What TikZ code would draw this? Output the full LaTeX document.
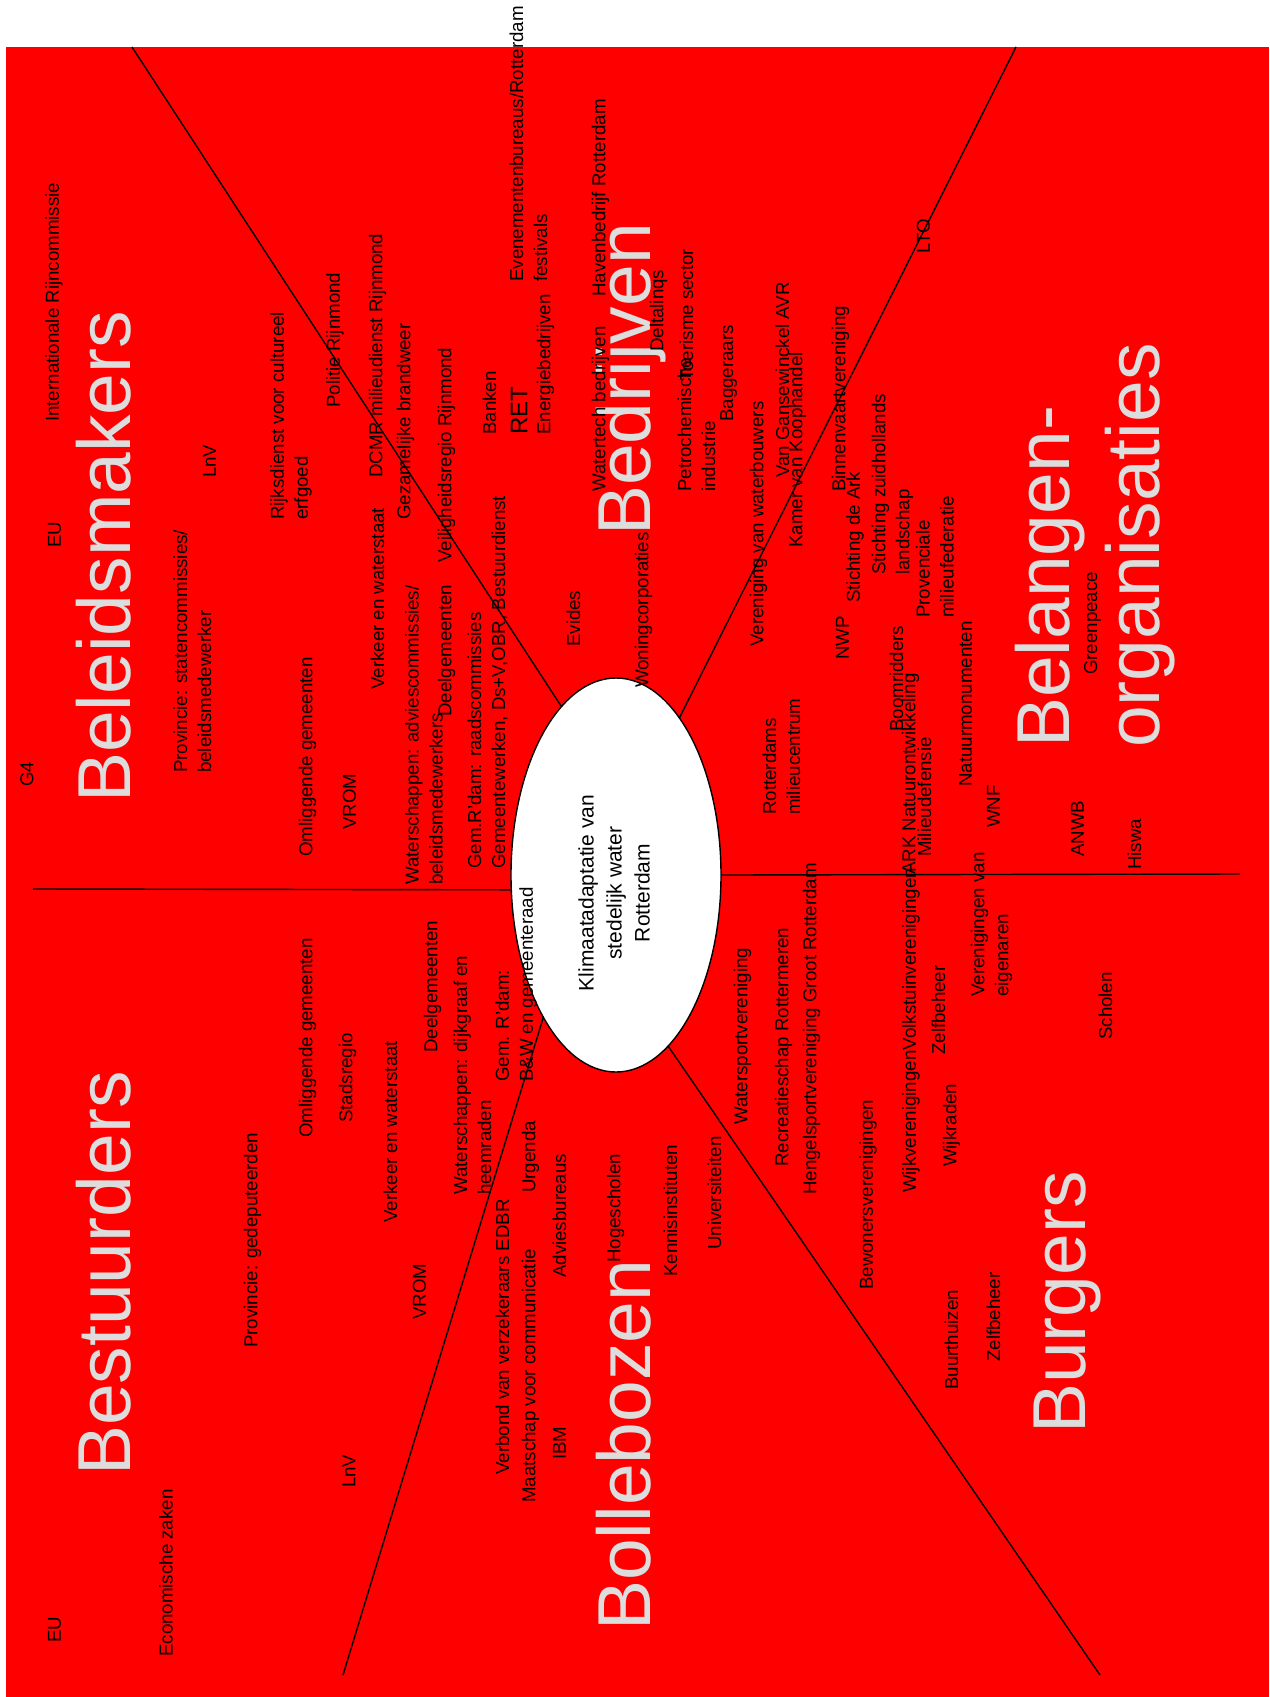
\documentclass[tikz,border=0pt]{standalone}
\usepackage{fontspec}
\setmainfont{Liberation Sans}
\usetikzlibrary{shapes.geometric}
\definecolor{vlakrood}{RGB}{255,0,0}
\definecolor{kopgrijs}{RGB}{221,221,221}
\tikzset{
  lbl/.style={rotate=90, anchor=west, inner sep=0pt, align=left, font=\fontsize{18.7}{24}\selectfont},
  kop/.style={rotate=90, anchor=base west, inner sep=0pt, text=kopgrijs, font=\fontsize{75}{90}\selectfont},
  lijn/.style={line width=1.4pt}
}

\begin{document}
\begin{tikzpicture}[x=1pt, y=-1pt]
\useasboundingbox (0,0) rectangle (1269,1697);
\fill[white] (0,0) rectangle (1269,1697);
\fill[vlakrood] (6,47) rectangle (1269,1697);
\node[ellipse, draw, lijn, fill=white, minimum width=210pt, minimum height=394pt, inner sep=0pt] (kern) at (616,875)
  {\rotatebox{90}{\fontsize{21}{28}\selectfont\begin{tabular}{@{}c@{\hspace{36pt}}}Klimaatadaptatie van\\stedelijk water\\Rotterdam\end{tabular}}};
\coordinate (lb) at (132,47);
\coordinate (rb) at (1016,47);
\coordinate (l) at (33,889);
\coordinate (r) at (1240,874);
\coordinate (lo) at (343,1675);
\coordinate (ro) at (1100,1675);
\draw[lijn] (kern.108) -- (lb);
\draw[lijn] (kern.68) -- (rb);
\draw[lijn] (kern.188) -- (l);
\draw[lijn] (kern.0) -- (r);
\draw[lijn] (kern.243) -- (lo);
\draw[lijn] (kern.287) -- (ro);
\node[kop] (beleid) at (130,803) {Beleidsmakers};
\node[kop] (bestuur) at (130,1476) {Bestuurders};
\node[kop] (bedrijf) at (650,536) {Bedrijven};
\node[kop] (bolle) at (650,1631) {Bollebozen};
\node[kop] (burger) at (1085,1434) {Burgers};
\node[kop, anchor=west, align=left] (belang) at (1095,748) {Belangen-\\organisaties};
\node[lbl] (irc) at (54,422) {Internationale Rijncommissie};
\node[lbl] (eu1) at (54.5,548) {EU};
\node[lbl] (g4) at (27,787) {G4};
\node[lbl] (prov1) at (192.5,773) {Provincie: statencommissies/\\beleidsmedewerker};
\node[lbl] (lnv1) at (209.5,478) {LnV};
\node[lbl] (rijks) at (291,520) {Rijksdienst voor cultureel\\erfgoed};
\node[lbl] (politie) at (335,408) {Politie Rijnmond};
\node[lbl] (omg1) at (307.5,857) {Omliggende gemeenten};
\node[lbl] (vrom1) at (349.5,830) {VROM};
\node[lbl] (venw1) at (377.5,690) {Verkeer en waterstaat};
\node[lbl] (dcmr) at (377.5,478) {DCMR milieudienst Rijnmond};
\node[lbl] (brandw) at (405.5,520) {Gezamelijke brandweer};
\node[lbl] (wsch1) at (424,885) {Waterschappen: adviescommissies/\\beleidsmedewerkers};
\node[lbl] (veilig) at (446.5,563) {Veiligheidsregio Rijnmond};
\node[lbl] (deelg1) at (446.5,717) {Deelgemeenten};
\node[lbl] (gemrd1) at (487.5,869) {Gem.R'dam: raadscommissies\\Gemeentewerken, Ds+V,OBR, Bestuurdienst};
\node[lbl] (banken) at (489.5,435) {Banken};
\node[lbl, font=\fontsize{24}{28}\selectfont] (ret) at (519,435) {RET};
\node[lbl] (evene) at (528.5,282) {Evenementenbureaus/Rotterdam\\festivals};
\node[lbl] (energie) at (545.5,435) {Energiebedrijven};
\node[lbl] (evides) at (573.5,647) {Evides};
\node[lbl] (watertech) at (600.5,492) {Watertech bedrijven};
\node[lbl] (haven) at (600.5,297) {Havenbedrijf Rotterdam};
\node[lbl] (woning) at (643.5,688) {Woningcorporaties};
\node[lbl] (delta) at (658.5,352) {Deltalinqs};
\node[lbl] (petro) at (696.5,492) {Petrochemische\\industrie};
\node[lbl] (toerisme) at (686.5,381) {Toerisme sector};
\node[lbl] (bagger) at (728.5,422) {Baggeraars};
\node[lbl] (vwb) at (758.5,647) {Vereniging van waterbouwers};
\node[lbl] (gansew) at (782.5,478) {Van Gansewinckel AVR};
\node[lbl] (kvk) at (797.5,548) {Kamer van Koophandel};
\node[lbl] (rmc) at (781.5,815) {Rotterdams\\milieucentrum};
\node[lbl] (binnenv) at (840.5,492) {Binnenvaartvereniging};
\node[lbl] (nwp) at (842.5,660) {NWP};
\node[lbl] (ark) at (855,603) {Stichting de Ark};
\node[lbl] (zhl) at (892.5,575) {Stichting zuidhollands\\landschap};
\node[lbl] (lto) at (923.5,254) {LTO};
\node[lbl] (pmf) at (935,618) {Provenciale\\milieufederatie};
\node[lbl] (boom) at (896.5,732) {Boomridders};
\node[lbl] (arknat) at (910.5,875) {ARK Natuurontwikkeling};
\node[lbl] (milieud) at (924.5,857) {Milieudefensie};
\node[lbl] (natuurm) at (965.5,787) {Natuurmonumenten};
\node[lbl] (wnf) at (993.5,828) {WNF};
\node[lbl] (greenp) at (1092.5,675) {Greenpeace};
\node[lbl] (anwb) at (1077.5,857) {ANWB};
\node[lbl] (hiswa) at (1134.5,870) {Hiswa};
\node[lbl] (eu2) at (54.5,1643) {EU};
\node[lbl] (ez) at (166,1657) {Economische zaken};
\node[lbl] (prov2) at (252.5,1348) {Provincie: gedeputeerden};
\node[lbl] (omg2) at (307.5,1138) {Omliggende gemeenten};
\node[lbl] (stads) at (347.5,1123) {Stadsregio};
\node[lbl] (venw2) at (390.5,1223) {Verkeer en waterstaat};
\node[lbl] (lnv2) at (349,1488) {LnV};
\node[lbl] (vrom2) at (419.5,1320) {VROM};
\node[lbl] (deelg2) at (432.5,1053) {Deelgemeenten};
\node[lbl] (wsch2) at (472.5,1195) {Waterschappen: dijkgraaf en\\heemraden};
\node[lbl] (gemrd2) at (516,1082) {Gem. R'dam:\\B\&W en gemeenteraad};
\node[lbl] (verbond) at (502.5,1475) {Verbond van verzekeraars EDBR};
\node[lbl] (urgenda) at (530.5,1193) {Urgenda};
\node[lbl] (maatschap) at (530.5,1503) {Maatschap voor communicatie};
\node[lbl] (advies) at (559.5,1278) {Adviesbureaus};
\node[lbl] (ibm) at (559.5,1460) {IBM};
\node[lbl] (hogesch) at (615.5,1263) {Hogescholen};
\node[lbl] (kennis) at (670.5,1277) {Kennisinstituten};
\node[lbl] (univ) at (714.5,1250) {Universiteiten};
\node[lbl] (watersp) at (742.5,1125) {Watersportvereniging};
\node[lbl] (recreatie) at (783.5,1167) {Recreatieschap Rottermeren};
\node[lbl] (hengel) at (811.5,1195) {Hengelsportvereniging Groot Rotterdam};
\node[lbl] (bewoners) at (868,1290) {Bewonersverenigingen};
\node[lbl] (wijkver) at (911,1193) {Wijkverenigingen};
\node[lbl] (volkst) at (wijkver.east) {Volkstuinverenigingen};
\node[lbl] (zelf1) at (938.5,1055) {Zelfbeheer};
\node[lbl] (wijkr) at (951.5,1167) {Wijkraden};
\node[lbl] (vve) at (991.5,997) {Verenigingen van\\eigenaren};
\node[lbl] (scholen) at (1105.5,1040) {Scholen};
\node[lbl] (buurt) at (951.5,1390) {Buurthuizen};
\node[lbl] (zelf2) at (993.5,1362) {Zelfbeheer};
\end{tikzpicture}
\end{document}
